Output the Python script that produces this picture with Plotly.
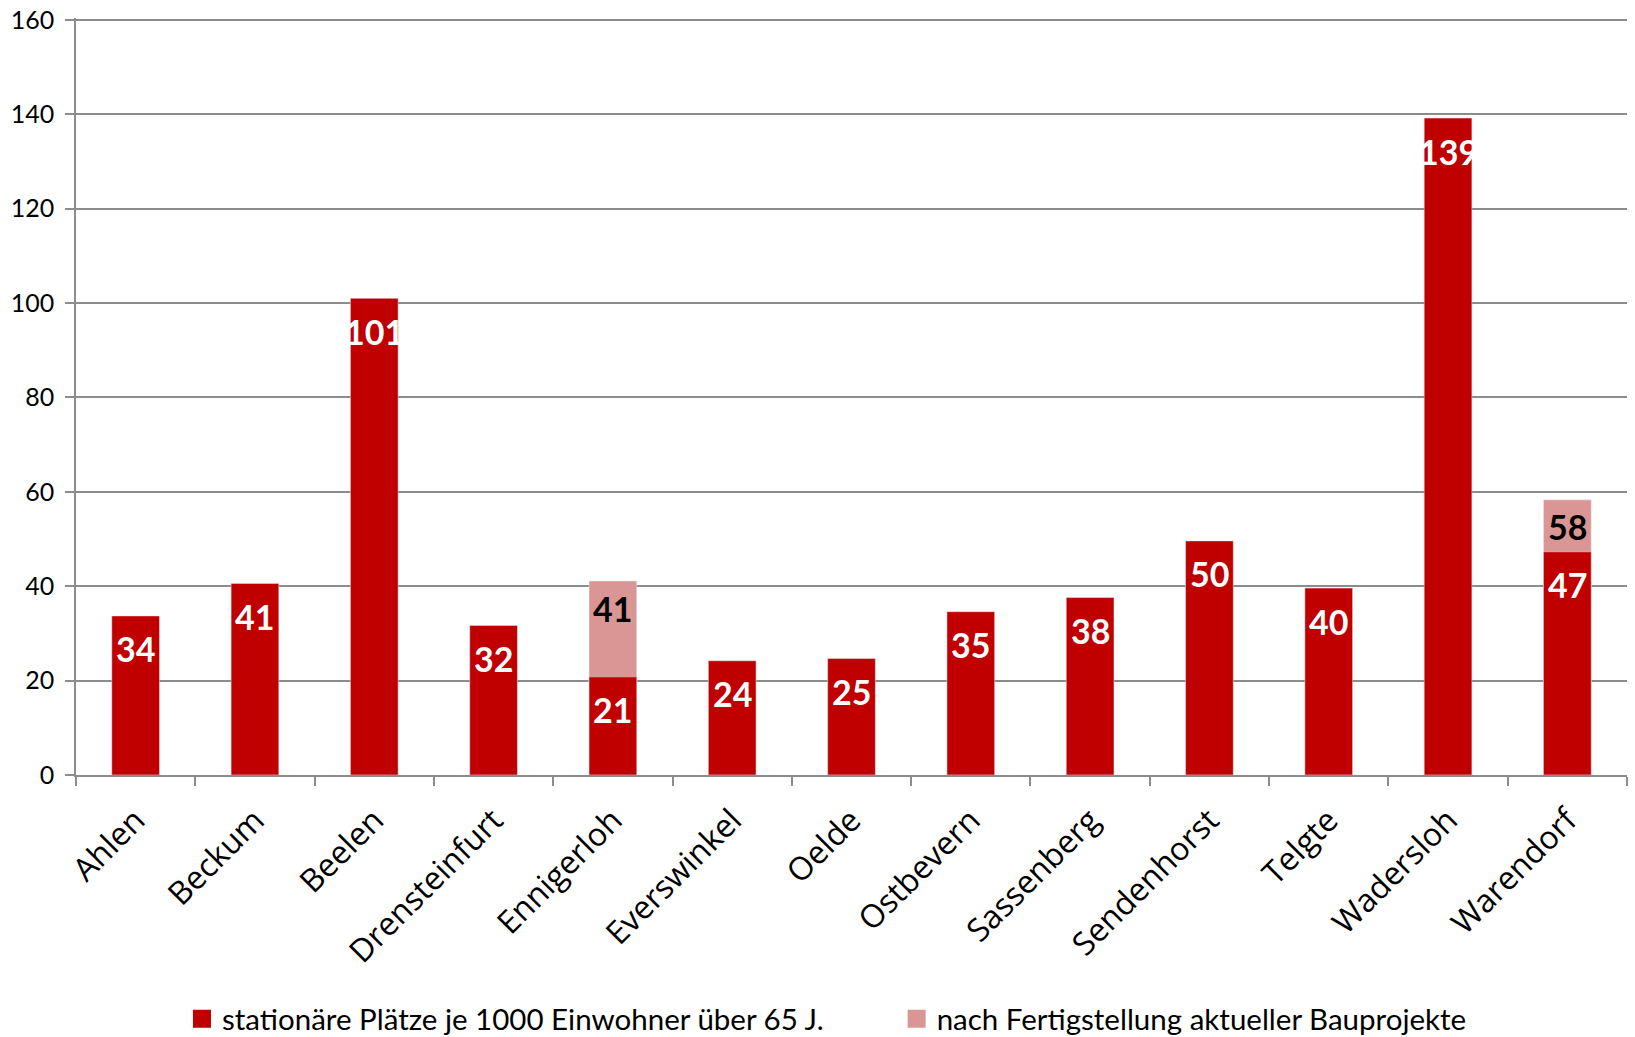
import plotly.graph_objects as go

categories = ["Ahlen", "Beckum", "Beelen", "Drensteinfurt", "Ennigerloh", "Everswinkel",
              "Oelde", "Ostbevern", "Sassenberg", "Sendenhorst", "Telgte", "Wadersloh", "Warendorf"]
stationaer = [33.7, 40.6, 101.0, 31.7, 20.8, 24.2, 24.7, 34.6, 37.6, 49.6, 39.6, 139.2, 47.3]
nach_bau = [None, None, None, None, 41.1, None, None, None, None, None, None, None, 58.3]
y_ticks = [0, 20, 40, 60, 80, 100, 120, 140, 160]

name_red = "stationäre Plätze je 1000 Einwohner über 65 J."
name_pink = "nach Fertigstellung aktueller Bauprojekte"
RED = "#C00000"
PINK = "#D99694"
GRID = "#8c8c8c"

fig = go.Figure()
fig.add_trace(go.Bar(x=categories, y=nach_bau, marker_color=PINK, showlegend=False, hoverinfo="skip"))
fig.add_trace(go.Bar(x=categories, y=stationaer, marker_color=RED, showlegend=False, hoverinfo="skip"))

# legend entries
fig.add_trace(go.Scatter(x=[None], y=[None], mode="markers", name=name_red,
                         marker=dict(symbol="square", size=16, color=RED, line=dict(color=RED, width=2)),
                         legend="legend"))
fig.add_trace(go.Scatter(x=[None], y=[None], mode="markers", name=name_pink,
                         marker=dict(symbol="square", size=16, color=PINK, line=dict(color=PINK, width=2)),
                         legend="legend2"))

annotations = []
for c, v in zip(categories, stationaer):
    annotations.append(dict(x=c, y=v, xref="x", yref="y", text=f"{v:.0f}", showarrow=False,
                            yanchor="middle", yshift=-33,
                            font=dict(family="Lato", size=34, color="white", weight="bold")))
for c, v in zip(categories, nach_bau):
    if v is None:
        continue
    annotations.append(dict(x=c, y=v, xref="x", yref="y", text=f"{v:.0f}", showarrow=False,
                            yanchor="middle", yshift=-27,
                            font=dict(family="Lato", size=34, color="black", weight="bold")))

legend_font = dict(family="Lato", size=29.5, color="black")
fig.update_layout(
    width=1635, height=1037,
    margin=dict(l=76, r=8, t=18, b=262, autoexpand=False),
    paper_bgcolor="white", plot_bgcolor="white",
    barmode="overlay", bargap=0.6,
    font=dict(family="Lato", color="black"),
    annotations=annotations,
    legend=dict(orientation="h", xref="container", yref="container",
                x=0.1113, xanchor="left", y=0.0174, yanchor="middle",
                font=legend_font, bgcolor="rgba(0,0,0,0)"),
    legend2=dict(orientation="h", xref="container", yref="container",
                 x=0.5484, xanchor="left", y=0.0174, yanchor="middle",
                 font=legend_font, bgcolor="rgba(0,0,0,0)"),
)
fig.update_xaxes(type="category", showline=True, linecolor=GRID, linewidth=1.5, automargin=False,
                 ticks="outside", tickson="boundaries", ticklen=9, tickcolor=GRID, tickwidth=1.5,
                 tickangle=-45, ticklabelstandoff=12,
                 tickfont=dict(family="Open Sans", size=32, color="black"),
                 showgrid=False)
fig.update_yaxes(range=[0, 160.4], tickvals=y_ticks, showline=True, linecolor=GRID, linewidth=1.5,
                 automargin=False, ticks="outside", ticklen=9, tickcolor=GRID, tickwidth=1.5,
                 ticklabelstandoff=6, ticklabeloverflow="allow",
                 showgrid=True, gridcolor=GRID, gridwidth=1.5, zeroline=False,
                 tickfont=dict(family="Lato", size=25, color="black"))

fig.write_html("out.html", config={"displayModeBar": False},
               post_script="document.body.style.margin='0';")
